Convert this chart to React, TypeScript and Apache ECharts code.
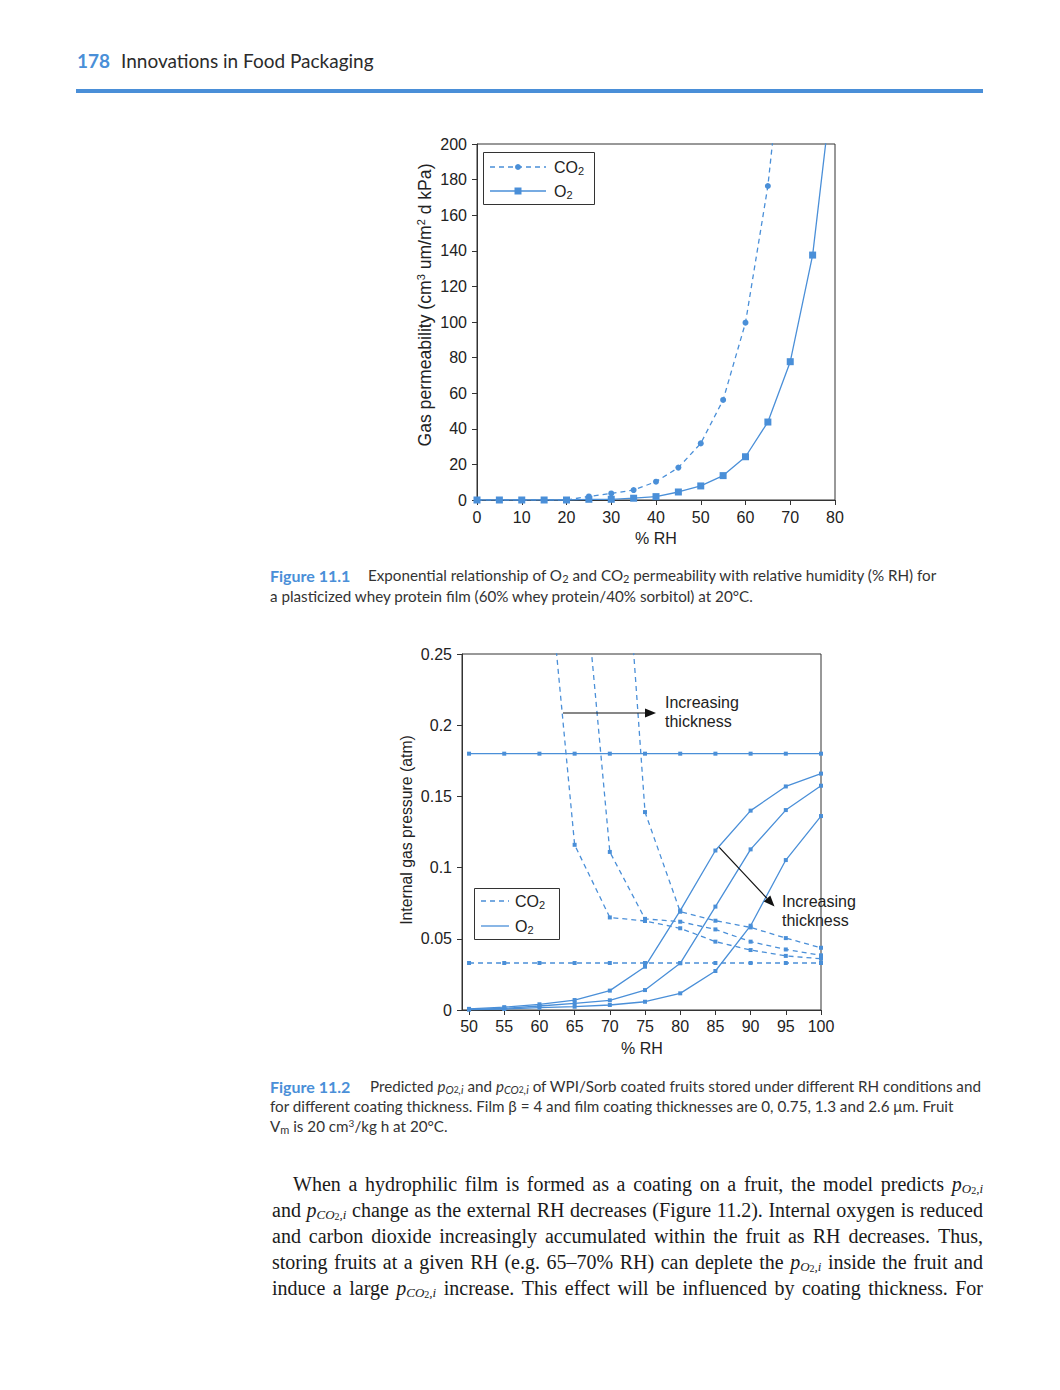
import React, { useEffect, useRef } from "react";
import * as echarts from "echarts";

const BLUE = "#4a8fd8";
const SANS = '"Liberation Sans", Arial, sans-serif';
const SERIF = '"Liberation Serif", "Times New Roman", serif';
const HUM = 'Lato, "Open Sans", sans-serif';

// ---------- Figure 11.1 data ----------
const rhCO2 = [0, 5, 10, 15, 20, 25, 30, 35, 40, 45, 50, 55, 60, 65, 70];
const co2Perm = [0, 0, 0, 0, 0, 2, 3.7, 5.6, 10.3, 18.2, 31.8, 56.2, 99.6, 176.4, 294];
const rhO2 = [0, 5, 10, 15, 20, 25, 30, 35, 40, 45, 50, 55, 60, 65, 70, 75, 80];
const o2Perm = [0, 0, 0, 0, 0, 0.4, 0.4, 1, 1.9, 4.5, 7.9, 13.7, 24.3, 43.8, 77.7, 137.6, 245];
const permTicks = { min: 0, max: 200, interval: 20 };
const rhTicks1 = { min: 0, max: 80, interval: 10 };

// ---------- Figure 11.2 data ----------
const rh2 = [50, 55, 60, 65, 70, 75, 80, 85, 90, 95, 100];
const rhTicks2 = [50, 55, 60, 65, 70, 75, 80, 85, 90, 95, 100];
const o2Uncoated = [0.18, 0.18, 0.18, 0.18, 0.18, 0.18, 0.18, 0.18, 0.18, 0.18, 0.18];
const co2Uncoated = [0.033, 0.033, 0.033, 0.033, 0.033, 0.033, 0.033, 0.033, 0.033, 0.033, 0.033];
const o2Thin = [0.0008, 0.002, 0.004, 0.007, 0.0136, 0.0304, 0.0698, 0.112, 0.14, 0.157, 0.166];
const o2Mid = [0.0005, 0.0012, 0.0028, 0.0047, 0.0068, 0.014, 0.0328, 0.0726, 0.1128, 0.1404, 0.1575];
const o2Thick = [0.0003, 0.0007, 0.0016, 0.0023, 0.0035, 0.0058, 0.0117, 0.0274, 0.0592, 0.1053, 0.1362];
const co2ThinRh = [60, 65, 70, 75, 80, 85, 90, 95, 100];
const co2Thin = [0.378, 0.116, 0.065, 0.0625, 0.0574, 0.048, 0.0421, 0.038, 0.036];
const co2MidRh = [65, 70, 75, 80, 85, 90, 95, 100];
const co2Mid = [0.38, 0.111, 0.064, 0.062, 0.0566, 0.048, 0.0425, 0.0384];
const co2ThickRh = [70, 75, 80, 85, 90, 95, 100];
const co2Thick = [0.486, 0.139, 0.069, 0.0627, 0.058, 0.0505, 0.0437];

// ---------- page text ----------
const bodyLines = [
  "When a hydrophilic film is formed as a coating on a fruit, the model predicts $O",
  "and $C change as the external RH decreases (Figure 11.2). Internal oxygen is reduced",
  "and carbon dioxide increasingly accumulated within the fruit as RH decreases. Thus,",
  "storing fruits at a given RH (e.g. 65–70% RH) can deplete the $O inside the fruit and",
  "induce a large $C increase. This effect will be influenced by coating thickness. For",
];

let measureCtx: CanvasRenderingContext2D | null = null;
function measure(text: string, font: string) {
  if (!measureCtx) measureCtx = document.createElement("canvas").getContext("2d");
  measureCtx!.font = font;
  return measureCtx!.measureText(text).width;
}

function pairs(xs: number[], ys: number[], max: number) {
  return xs.map((x, i) => (ys[i] > max ? { value: [x, ys[i]], symbol: "none" } : [x, ys[i]]));
}

function tx(x: number, y: number, text: string, size: number, family: string, extra: any = {}) {
  const align = extra.align || "left";
  return {
    type: "text",
    x,
    y,
    rotation: extra.rotation || 0,
    z: 100,
    silent: true,
    style: {
      text,
      fontSize: size,
      fontFamily: family,
      fontWeight: extra.weight || "normal",
      fontStyle: extra.style || "normal",
      fill: extra.fill || "#222",
      textAlign: align,
      align,
      textVerticalAlign: "middle",
      verticalAlign: "middle",
      lineHeight: extra.lineHeight,
      rich: extra.rich,
    },
  };
}

const CAP = 15.2;
const sansRich = {
  sub: { fontSize: 11, fontFamily: SANS, lineHeight: 8, verticalAlign: "bottom", fill: "#222" },
  sup: { fontSize: 11, fontFamily: SANS, lineHeight: 6, verticalAlign: "top", fill: "#222" },
};
const capRich = {
  i: { fontSize: CAP, fontFamily: HUM, fontStyle: "italic", fill: "#333", lineHeight: 17 },
  si: { fontSize: 11, fontFamily: HUM, fontStyle: "italic", fill: "#333", lineHeight: 7, verticalAlign: "bottom" },
  s2: { fontSize: 8.5, fontFamily: HUM, fill: "#333", lineHeight: 2, verticalAlign: "bottom" },
  sub: { fontSize: 11, fontFamily: HUM, fill: "#333", lineHeight: 9, verticalAlign: "bottom" },
  sup: { fontSize: 10, fontFamily: HUM, fill: "#333", lineHeight: 6, verticalAlign: "top" },
};
const bodyRich = {
  i: { fontSize: 20, fontFamily: SERIF, fontStyle: "italic", fill: "#1a1a1a", lineHeight: 22 },
  si: { fontSize: 13, fontFamily: SERIF, fontStyle: "italic", fill: "#1a1a1a", lineHeight: 8, verticalAlign: "bottom" },
  s2: { fontSize: 10, fontFamily: SERIF, fill: "#1a1a1a", lineHeight: 3, verticalAlign: "bottom" },
};
const bodyFonts: Record<string, string> = {
  "": `20px ${SERIF}`,
  i: `italic 20px ${SERIF}`,
  si: `italic 13px ${SERIF}`,
  s2: `10px ${SERIF}`,
};

function wordRuns(w: string): [string, string][] {
  if (w === "$O") return [["p", "i"], ["O", "si"], ["2", "s2"], [",i", "si"]];
  if (w === "$C") return [["p", "i"], ["CO", "si"], ["2", "s2"], [",i", "si"]];
  return [[w, ""]];
}

function bodyGraphics() {
  const out: any[] = [];
  const lineY = [1184, 1210, 1236, 1262, 1288];
  bodyLines.forEach((line, li) => {
    const words = line.split(" ");
    const runs = words.map(wordRuns);
    const widths = runs.map((r) => r.reduce((s, [t, k]) => s + measure(t, bodyFonts[k]), 0));
    const left = li === 0 ? 293 : 272;
    const right = 983;
    const total = widths.reduce((a, b) => a + b, 0);
    const gap = (right - left - total) / (words.length - 1);
    let x = left;
    runs.forEach((r, wi) => {
      const text = r.map(([t, k]) => (k ? `{${k}|${t}}` : t)).join("");
      out.push(tx(x, lineY[li], text, 20, SERIF, { fill: "#1a1a1a", lineHeight: 22, rich: bodyRich }));
      x += widths[wi] + gap;
    });
  });
  return out;
}

function buildOption(): any {
  const axisCommon = {
    axisLine: { show: true, lineStyle: { color: "#333", width: 1 } },
    axisTick: { show: true, length: 5, lineStyle: { color: "#333" } },
    splitLine: { show: false },
  };
  const labelStyle = { fontSize: 16, fontFamily: SANS, color: "#222" };
  const dash = [5, 4];

  const lineSeries = (xi: number, data: any[], dashed: boolean, symbol: string, size: number) => ({
    type: "line",
    xAxisIndex: xi,
    yAxisIndex: xi,
    data,
    symbol,
    symbolSize: size,
    clip: true,
    itemStyle: { color: BLUE },
    lineStyle: { color: BLUE, width: 1.3, type: dashed ? dash : "solid" },
    emphasis: { disabled: true },
  });

  // arrow 2 geometry
  const a2s = [719.3, 847.3];
  const a2t = [774.5, 906.5];
  const dx = a2t[0] - a2s[0];
  const dy = a2t[1] - a2s[1];
  const len = Math.hypot(dx, dy);
  const ux = dx / len;
  const uy = dy / len;
  const bx = a2t[0] - 11 * ux;
  const by = a2t[1] - 11 * uy;
  const px = -uy * 4.5;
  const py = ux * 4.5;

  const graphics: any[] = [
    // header
    tx(77, 60, "178", 19, HUM, { weight: "bold", fill: BLUE }),
    tx(121, 60, "Innovations in Food Packaging", 19, HUM, { fill: "#2b2b2b" }),
    { type: "rect", shape: { x: 76, y: 89, width: 907, height: 4 }, style: { fill: BLUE }, silent: true },

    // figure 11.1 labels
    tx(425, 305, "Gas permeability (cm{sup|3} um/m{sup|2} d kPa)", 17.6, SANS, {
      align: "center", rotation: Math.PI / 2, lineHeight: 20, rich: sansRich,
    }),
    tx(656, 538, "% RH", 16, SANS, { align: "center" }),
    // legend 11.1
    { type: "rect", shape: { x: 483.5, y: 152.5, width: 111, height: 52 }, style: { fill: "#fff", stroke: "#333", lineWidth: 1 }, z: 90 },
    { type: "line", shape: { x1: 490, y1: 167, x2: 546, y2: 167 }, style: { stroke: BLUE, lineWidth: 1.3, lineDash: dash }, z: 95 },
    { type: "circle", shape: { cx: 518, cy: 167, r: 3 }, style: { fill: BLUE }, z: 96 },
    { type: "line", shape: { x1: 490, y1: 191, x2: 546, y2: 191 }, style: { stroke: BLUE, lineWidth: 1.3 }, z: 95 },
    { type: "rect", shape: { x: 514.5, y: 187.5, width: 7, height: 7 }, style: { fill: BLUE }, z: 96 },
    tx(554, 167, "CO{sub|2}", 16, SANS, { lineHeight: 18, rich: sansRich }),
    tx(554, 191, "O{sub|2}", 16, SANS, { lineHeight: 18, rich: sansRich }),

    // caption 11.1
    tx(270, 575, "Figure 11.1", 16, HUM, { weight: "bold", fill: BLUE }),
    tx(368, 575, "Exponential relationship of O{sub|2} and CO{sub|2} permeability with relative humidity (% RH) for", CAP, HUM, { fill: "#333", lineHeight: 17, rich: capRich }),
    tx(270, 596, "a plasticized whey protein film (60% whey protein/40% sorbitol) at 20°C.", CAP, HUM, { fill: "#333" }),

    // figure 11.2 labels
    tx(406, 830, "Internal gas pressure (atm)", 15.8, SANS, { align: "center", rotation: Math.PI / 2 }),
    tx(642, 1048, "% RH", 16, SANS, { align: "center" }),
    // legend 11.2
    { type: "rect", shape: { x: 474.5, y: 888.5, width: 85, height: 51 }, style: { fill: "#fff", stroke: "#333", lineWidth: 1 }, z: 90 },
    { type: "line", shape: { x1: 481, y1: 901, x2: 509, y2: 901 }, style: { stroke: BLUE, lineWidth: 1.3, lineDash: dash }, z: 95 },
    { type: "line", shape: { x1: 481, y1: 926, x2: 509, y2: 926 }, style: { stroke: BLUE, lineWidth: 1.3 }, z: 95 },
    tx(515, 901, "CO{sub|2}", 16, SANS, { lineHeight: 18, rich: sansRich }),
    tx(515, 926, "O{sub|2}", 16, SANS, { lineHeight: 18, rich: sansRich }),
    // annotations
    { type: "line", shape: { x1: 563, y1: 713, x2: 646, y2: 713 }, style: { stroke: "#111", lineWidth: 1.2 }, z: 95 },
    { type: "polygon", shape: { points: [[656, 713], [645, 708.5], [645, 717.5]] }, style: { fill: "#111" }, z: 95 },
    tx(665, 702, "Increasing", 16, SANS),
    tx(665, 721, "thickness", 16, SANS),
    { type: "line", shape: { x1: a2s[0], y1: a2s[1], x2: bx, y2: by }, style: { stroke: "#111", lineWidth: 1.2 }, z: 95 },
    { type: "polygon", shape: { points: [[a2t[0], a2t[1]], [bx + px, by + py], [bx - px, by - py]] }, style: { fill: "#111" }, z: 95 },
    tx(782, 901, "Increasing", 16, SANS),
    tx(782, 920, "thickness", 16, SANS),

    // caption 11.2
    tx(270, 1086, "Figure 11.2", 16, HUM, { weight: "bold", fill: BLUE }),
    tx(370, 1086, "Predicted {i|p}{si|O}{s2|2}{si|,i} and {i|p}{si|CO}{s2|2}{si|,i} of WPI/Sorb coated fruits stored under different RH conditions and", CAP, HUM, { fill: "#333", lineHeight: 17, rich: capRich }),
    tx(270, 1106, "for different coating thickness. Film β = 4 and film coating thicknesses are 0, 0.75, 1.3 and 2.6 μm. Fruit", CAP, HUM, { fill: "#333" }),
    tx(270, 1126, "V{sub|m} is 20 cm{sup|3}/kg h at 20°C.", CAP, HUM, { fill: "#333", lineHeight: 17, rich: capRich }),

    ...bodyGraphics(),
  ];

  return {
    animation: false,
    backgroundColor: "#fff",
    grid: [
      { left: 477, top: 144, width: 358, height: 356, show: true, borderColor: "#333", borderWidth: 1, backgroundColor: "transparent" },
      { left: 462, top: 654, width: 359, height: 356, show: true, borderColor: "#333", borderWidth: 1, backgroundColor: "transparent" },
    ],
    xAxis: [
      { gridIndex: 0, type: "value", ...rhTicks1, ...axisCommon, axisLabel: { ...labelStyle, margin: 9 } },
      {
        gridIndex: 1, type: "value", min: 49, max: 100, ...axisCommon,
        axisTick: { ...axisCommon.axisTick, customValues: rhTicks2 },
        axisLabel: { ...labelStyle, margin: 8, customValues: rhTicks2 },
      },
    ],
    yAxis: [
      { gridIndex: 0, type: "value", ...permTicks, ...axisCommon, axisLabel: { ...labelStyle, margin: 10 } },
      { gridIndex: 1, type: "value", min: 0, max: 0.25, interval: 0.05, ...axisCommon, axisLabel: { ...labelStyle, margin: 10 } },
    ],
    series: [
      lineSeries(0, pairs(rhCO2, co2Perm, 200), true, "circle", 6),
      lineSeries(0, pairs(rhO2, o2Perm, 200), false, "rect", 7),
      lineSeries(1, pairs(rh2, o2Uncoated, 0.25), false, "rect", 4),
      lineSeries(1, pairs(rh2, co2Uncoated, 0.25), true, "rect", 4),
      lineSeries(1, pairs(rh2, o2Thin, 0.25), false, "rect", 4),
      lineSeries(1, pairs(rh2, o2Mid, 0.25), false, "rect", 4),
      lineSeries(1, pairs(rh2, o2Thick, 0.25), false, "rect", 4),
      lineSeries(1, pairs(co2ThinRh, co2Thin, 0.25), true, "rect", 4),
      lineSeries(1, pairs(co2MidRh, co2Mid, 0.25), true, "rect", 4),
      lineSeries(1, pairs(co2ThickRh, co2Thick, 0.25), true, "rect", 4),
    ],
    graphic: { elements: graphics },
  };
}

export default function App() {
  const ref = useRef<HTMLDivElement>(null);
  useEffect(() => {
    const chart = echarts.init(ref.current!, null, { renderer: "svg" });
    chart.setOption(buildOption());
    return () => chart.dispose();
  }, []);
  return (
    <div
      ref={ref}
      style={{ position: "absolute", left: 0, top: 0, width: 1060, height: 1390, background: "#fff" }}
    />
  );
}
